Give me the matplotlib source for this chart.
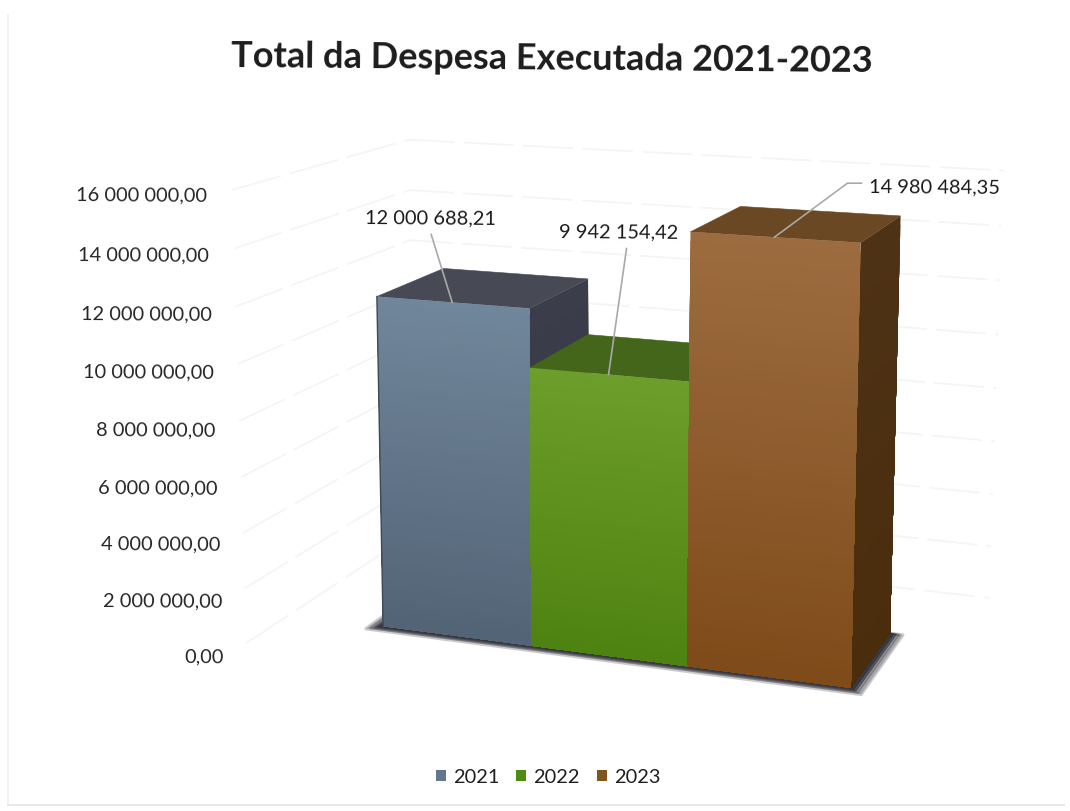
import numpy as np
import matplotlib
matplotlib.use("Agg")
import matplotlib.pyplot as plt
from matplotlib.colors import to_rgb
from matplotlib.patches import Patch, Polygon

plt.rcParams["font.family"] = ["Lato", "DejaVu Sans"]

# Chart data
years = ["2021", "2022", "2023"]
despesa = [12000688.21, 9942154.42, 14980484.35]
despesa_labels = ["12 000 688,21", "9 942 154,42", "14 980 484,35"]
tick_values = [0, 2e6, 4e6, 6e6, 8e6, 10e6, 12e6, 14e6, 16e6]
tick_labels = ["0,00", "2 000 000,00", "4 000 000,00", "6 000 000,00", "8 000 000,00",
               "10 000 000,00", "12 000 000,00", "14 000 000,00", "16 000 000,00"]
title = "Total da Despesa Executada 2021-2023"

# Face colours per year
front_top = ["#70869a", "#6d9d2a", "#9c6c40"]
front_bottom = ["#536376", "#4e8210", "#7e4a18"]
top_face = ["#474a55", "#43661a", "#6b4824"]
side_top = ["#3b3e4a", "#3a5a12", "#4e3216"]
side_bottom = ["#343741", "#33500e", "#4a2d0c"]
legend_colors = ["#62778b", "#4f8a12", "#80561f"]

# Perspective camera: world (category edge, value in millions, depth) to canvas
CAMERA = np.array([[135.69167714, -1.39952681, 93.14289936, 383.11992532],
                   [4.17408371, -28.16588246, -10.07172722, 627.21682537],
                   [-0.02377782, -0.00232944, 0.06379741, 1.0]])


def project(u, value, d):
    q = CAMERA @ np.array([u, value / 1e6, d, 1.0])
    return q[0] / q[2], q[1] / q[2]


def quad(a, b, c, e):
    return [project(*a), project(*b), project(*c), project(*e)]


def blend(c0, c1, t):
    c0, c1 = np.array(to_rgb(c0)), np.array(to_rgb(c1))
    return tuple(c0 + (c1 - c0) * t)


def shaded_face(ax, corners_at, value, c_top, c_bottom, steps=50):
    """Paint nested polygons from the full height down, giving a smooth vertical gradient."""
    for level in np.linspace(value, 0, steps, endpoint=False):
        color = blend(c_bottom, c_top, level / value)
        ax.add_patch(Polygon(corners_at(level), closed=True, facecolor=color,
                             edgecolor="none", zorder=3))


fig = plt.figure(figsize=(10.7, 8.12), dpi=100, facecolor="white")
ax = fig.add_axes([0, 0, 1, 1])
ax.set_xlim(0, 1070)
ax.set_ylim(812, 0)
ax.axis("off")

# Faint outline of the chart area
ax.plot([8, 8], [16, 806], color="#f0f0f0", lw=1.2)
ax.plot([8, 1064], [806, 806], color="#e8e8e8", lw=1.4)

# Gridlines running along the left and back walls
WALL_U0, WALL_U1 = -0.65, 3.45
WALL_D0, WALL_D1 = -0.58, 1.9
for v in tick_values:
    pts = [project(WALL_U0, v, WALL_D0), project(WALL_U0, v, WALL_D1), project(WALL_U1, v, WALL_D1)]
    ax.plot(*zip(*pts), color="#f5f5f5", lw=1.3, ls=(0, (28, 5)), zorder=1)

# Soft shadow on the floor
for g, alpha, lw in [(0.08, 0.25, 2.5), (0.06, 0.35, 1.5), (0.04, 0.6, 1.0), (0.025, 0.85, 0.5)]:
    ax.add_patch(Polygon(quad((-g, 0, -g), (3 + g, 0, -g), (3 + g, 0, 1), (-g, 0, 1)),
                         closed=True, facecolor="#33333c", edgecolor="#33333c", linewidth=lw,
                         alpha=alpha, joinstyle="round", zorder=2))

# Bars, painted from left to right
for i, value in enumerate(despesa):
    u0, u1 = float(i), float(i + 1)
    shaded_face(ax, lambda h: quad((u1, 0, 0), (u1, 0, 1), (u1, h, 1), (u1, h, 0)),
                value, side_top[i], side_bottom[i])
    ax.add_patch(Polygon(quad((u0, value, 0), (u1, value, 0), (u1, value, 1), (u0, value, 1)),
                         closed=True, facecolor=top_face[i], edgecolor=top_face[i],
                         linewidth=0.4, zorder=3))
    shaded_face(ax, lambda h: quad((u0, 0, 0), (u1, 0, 0), (u1, h, 0), (u0, h, 0)),
                value, front_top[i], front_bottom[i])
    if i == 0:
        ax.plot(*zip(project(u0, 0, 0), project(u0, value, 0)), color="#3f4a58", lw=1.0, zorder=3)

# Value labels with leader lines
label_offsets = [(-22, -85), (10, -143), (160, -51)]
for i, (value, text, off) in enumerate(zip(despesa, despesa_labels, label_offsets)):
    anchor = project(i + 0.5, value, 0)
    tx, ty = anchor[0] + off[0], anchor[1] + off[1]
    ax.text(tx, ty, text, fontsize=14.4, ha="center", va="center", color="#1a1a1a",
            rotation=-0.4, rotation_mode="anchor", zorder=6)
    if i == 2:
        path = [anchor, (tx - 87, ty - 3), (tx - 73, ty - 3)]
    else:
        path = [anchor, (tx + (1 if i == 0 else 8), ty + 17)]
    ax.plot(*zip(*path), color="#a9a9a9", lw=1.2, zorder=5)

# Value axis labels, placed next to the front end of the left wall
for v, text in zip(tick_values, tick_labels):
    x, y = project(WALL_U0, v, WALL_D0)
    slack = 1 - v / tick_values[-1]
    ax.text(x - 25 + 3 * slack, y + 5 + 8 * slack, text, fontsize=14.4, ha="right", va="center",
            color="#262626", rotation=-0.4, rotation_mode="anchor")

ax.text(552, 59, title, fontsize=26, fontweight="bold", ha="center", va="center",
        color="#1c1c1c", rotation=-0.45, rotation_mode="anchor")

handles = [Patch(facecolor=c, edgecolor="none", label=y) for c, y in zip(legend_colors, years)]
ax.legend(handles=handles, loc="center", bbox_to_anchor=(548, 778), bbox_transform=ax.transData,
          ncol=3, frameon=False, fontsize=14.4, handlelength=0.5, handleheight=0.5,
          handletextpad=0.35, columnspacing=0.85, labelcolor="#1f1f1f")

fig.savefig("out.png", dpi=100)
